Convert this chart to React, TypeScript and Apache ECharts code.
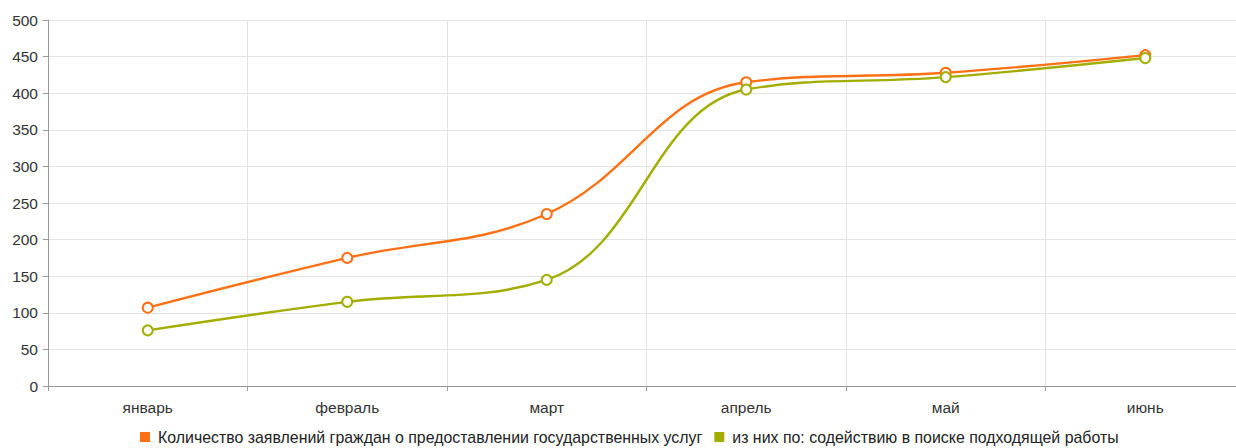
import React, { useEffect, useRef } from "react";
import * as echarts from "echarts";

const categories = ["январь", "февраль", "март", "апрель", "май", "июнь"];
const seriesNames = [
  "Количество заявлений граждан о предоставлении государственных услуг",
  "из них по: содействию в поиске подходящей работы",
];
const totalValues = [107, 175, 235, 415, 428, 452];
const jobValues = [76, 115, 145, 405, 422, 448];
const yTicks = { min: 0, max: 500, interval: 50 };

export default function App() {
  const ref = useRef<HTMLDivElement>(null);
  useEffect(() => {
    if (!ref.current) return;
    const chart = echarts.init(ref.current, undefined, { renderer: "svg" });
    const font = "'Liberation Sans', Arial, sans-serif";
    chart.setOption({
      animation: false,
      textStyle: { fontFamily: font },
      grid: { left: 48, width: 1197, top: 20, bottom: 62, containLabel: false },
      legend: {
        top: 423,
        left: 135,
        itemWidth: 10,
        itemHeight: 10,
        itemGap: 12,
        icon: "rect",
        textStyle: { fontSize: 15.9, lineHeight: 18, color: "#222", fontFamily: font, padding: [0, 0, 0, 3] },
        data: seriesNames.map((n) => ({ name: n, icon: "rect" })),
      },
      xAxis: {
        type: "category",
        data: categories,
        boundaryGap: true,
        axisLine: { lineStyle: { color: "#999" } },
        axisTick: { show: true, length: 5, lineStyle: { color: "#999" } },
        axisLabel: { color: "#333", fontSize: 15.5, margin: 13, fontFamily: font },
        splitLine: { show: true, lineStyle: { color: "#e3e3e3" } },
      },
      yAxis: {
        type: "value",
        min: yTicks.min,
        max: yTicks.max,
        interval: yTicks.interval,
        axisLine: { show: true, lineStyle: { color: "#999" } },
        axisTick: { show: true, length: 5, lineStyle: { color: "#999" } },
        axisLabel: { color: "#333", fontSize: 15.5, margin: 10, fontFamily: font },
        splitLine: { lineStyle: { color: "#e3e3e3" } },
      },
      series: [
        {
          name: seriesNames[0],
          type: "line",
          data: totalValues,
          smooth: 0.4,
          symbol: "emptyCircle",
          symbolSize: 10,
          color: "#FF7014",
          lineStyle: { width: 2.4, color: "#FF7014" },
          itemStyle: { color: "#FF7014", borderWidth: 2.4 },
        },
        {
          name: seriesNames[1],
          type: "line",
          data: jobValues,
          smooth: 0.4,
          symbol: "emptyCircle",
          symbolSize: 10,
          color: "#A2AD00",
          lineStyle: { width: 2.4, color: "#A2AD00" },
          itemStyle: { color: "#A2AD00", borderWidth: 2.4 },
        },
      ],
    });
    return () => chart.dispose();
  }, []);
  return (
    <div style={{ position: "absolute", left: 0, top: 0, width: 1236, height: 448, overflow: "hidden", background: "#fff" }}>
      <div ref={ref} style={{ width: 1260, height: 448 }} />
    </div>
  );
}
